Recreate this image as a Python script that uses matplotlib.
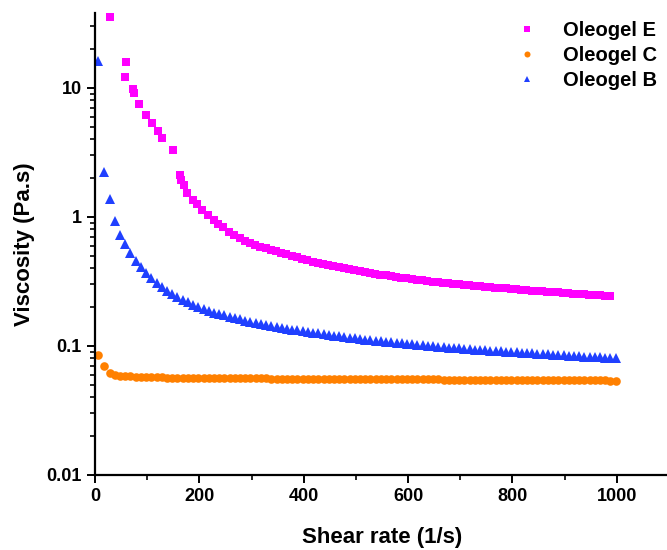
# -*- coding: utf-8 -*-
"""Viscozitate vs. viteza de forfecare pentru trei oleogeluri (scala log)."""

import matplotlib.pyplot as plt
from matplotlib.ticker import FixedLocator, LogLocator, NullFormatter, FuncFormatter

# ---------------------------------------------------------------------------
# Date
# ---------------------------------------------------------------------------
shear_e = [29, 58, 60, 72, 75, 85, 98, 110, 120, 129,
           150, 163, 164, 170, 177, 188, 196, 206, 217, 228,
           236, 246, 257, 267, 277, 287, 297, 307, 317, 327,
           337, 347, 357, 367, 377, 387, 397, 407, 417, 427,
           437, 447, 457, 467, 477, 487, 497, 507, 517, 527,
           537, 547, 557, 567, 577, 587, 597, 607, 617, 627,
           637, 647, 657, 667, 677, 687, 697, 707, 717, 727,
           737, 747, 757, 767, 777, 787, 797, 807, 817, 827,
           837, 847, 857, 867, 877, 887, 897, 907, 917, 927,
           937, 947, 957, 967, 977, 987]
visc_e = [35.3, 12.1, 15.8, 9.77, 9.1, 7.48, 6.14, 5.33, 4.62, 4.07,
          3.33, 2.12, 1.93, 1.77, 1.53, 1.35, 1.26, 1.13, 1.03, 0.943,
          0.883, 0.837, 0.77, 0.73, 0.69, 0.655, 0.628, 0.606, 0.589, 0.572,
          0.557, 0.542, 0.528, 0.515, 0.502, 0.489, 0.476, 0.463, 0.451, 0.441,
          0.432, 0.423, 0.415, 0.408, 0.401, 0.394, 0.387, 0.380, 0.374, 0.368,
          0.362, 0.357, 0.352, 0.347, 0.342, 0.338, 0.334, 0.330, 0.326, 0.322,
          0.318, 0.315, 0.312, 0.309, 0.306, 0.303, 0.300, 0.297, 0.295, 0.292,
          0.290, 0.287, 0.285, 0.283, 0.281, 0.279, 0.277, 0.275, 0.273, 0.271,
          0.269, 0.267, 0.265, 0.263, 0.262, 0.260, 0.258, 0.257, 0.255, 0.253,
          0.252, 0.250, 0.249, 0.247, 0.246, 0.245]

shear_bc = [5, 18, 28, 38, 48, 58, 68, 78, 88, 98,
            108, 118, 128, 138, 148, 158, 168, 178, 188, 198,
            208, 218, 228, 238, 248, 258, 268, 278, 288, 298,
            308, 318, 328, 338, 348, 358, 368, 378, 388, 398,
            408, 418, 428, 438, 448, 458, 468, 478, 488, 498,
            508, 518, 528, 538, 548, 558, 568, 578, 588, 598,
            608, 618, 628, 638, 648, 658, 668, 678, 688, 698,
            708, 718, 728, 738, 748, 758, 768, 778, 788, 798,
            808, 818, 828, 838, 848, 858, 868, 878, 888, 898,
            908, 918, 928, 938, 948, 958, 968, 978, 988, 998]
visc_c = [0.0847, 0.0697, 0.0618, 0.0598, 0.0590, 0.0585, 0.0581, 0.0578, 0.0576, 0.0574,
          0.0572, 0.0571, 0.0570, 0.0569, 0.0568, 0.0567, 0.0566, 0.0566, 0.0565, 0.0565,
          0.0564, 0.0564, 0.0563, 0.0563, 0.0562, 0.0562, 0.0562, 0.0561, 0.0561, 0.0561,
          0.0560, 0.0560, 0.0560, 0.0559, 0.0559, 0.0559, 0.0558, 0.0558, 0.0558, 0.0557,
          0.0557, 0.0557, 0.0557, 0.0556, 0.0556, 0.0556, 0.0556, 0.0555, 0.0555, 0.0555,
          0.0555, 0.0554, 0.0554, 0.0554, 0.0553, 0.0553, 0.0553, 0.0552, 0.0552, 0.0552,
          0.0551, 0.0551, 0.0551, 0.0550, 0.0550, 0.0550, 0.0549, 0.0549, 0.0549, 0.0548,
          0.0548, 0.0548, 0.0547, 0.0547, 0.0547, 0.0546, 0.0546, 0.0546, 0.0545, 0.0545,
          0.0545, 0.0544, 0.0544, 0.0544, 0.0543, 0.0543, 0.0543, 0.0542, 0.0542, 0.0542,
          0.0541, 0.0541, 0.0541, 0.0541, 0.0540, 0.0540, 0.0540, 0.0540, 0.0539, 0.0539]
visc_b = [16.2, 2.24, 1.37, 0.936, 0.73, 0.614, 0.53, 0.454, 0.408, 0.366,
          0.337, 0.308, 0.285, 0.268, 0.253, 0.239, 0.228, 0.218, 0.209, 0.200,
          0.193, 0.186, 0.181, 0.177, 0.173, 0.168, 0.164, 0.161, 0.157, 0.154,
          0.151, 0.148, 0.145, 0.143, 0.140, 0.138, 0.136, 0.134, 0.132, 0.130,
          0.128, 0.126, 0.125, 0.123, 0.122, 0.120, 0.119, 0.117, 0.116, 0.115,
          0.114, 0.112, 0.111, 0.110, 0.109, 0.108, 0.107, 0.106, 0.105, 0.104,
          0.103, 0.102, 0.101, 0.100, 0.0993, 0.0985, 0.0978, 0.0970, 0.0963, 0.0956,
          0.0950, 0.0943, 0.0937, 0.0931, 0.0925, 0.0919, 0.0913, 0.0908, 0.0902, 0.0897,
          0.0891, 0.0886, 0.0881, 0.0876, 0.0871, 0.0866, 0.0861, 0.0856, 0.0851, 0.0847,
          0.0842, 0.0837, 0.0833, 0.0828, 0.0824, 0.0820, 0.0815, 0.0811, 0.0807, 0.0803]

serii = [
    ("Oleogel E", shear_e, visc_e, "s", "#FF00FF", 6.0),
    ("Oleogel C", shear_bc, visc_c, "o", "#FF8000", 6.2),
    ("Oleogel B", shear_bc, visc_b, "^", "#2040FF", 7.0),
]

# ---------------------------------------------------------------------------
# Figura
# ---------------------------------------------------------------------------
plt.rcParams["font.family"] = ["Liberation Sans", "DejaVu Sans"]
plt.rcParams["font.weight"] = "bold"

fig = plt.figure(figsize=(6.67, 5.5), dpi=100)
ax = fig.add_axes([0.1424, 0.1364, 0.8605, 0.84])

for nume, x, y, marker, culoare, ms in serii:
    ax.plot(x, y, linestyle="none", marker=marker, markersize=ms,
            color=culoare, markeredgewidth=0, label=nume)

ax.set_yscale("log")
ax.set_xlim(0, 1100)
ax.set_ylim(0.01, 38.1)

ax.xaxis.set_major_locator(FixedLocator([0, 200, 400, 600, 800, 1000]))
ax.xaxis.set_minor_locator(FixedLocator([100, 300, 500, 700, 900, 1100]))
ax.yaxis.set_major_locator(FixedLocator([0.01, 0.1, 1, 10]))
ax.yaxis.set_minor_locator(LogLocator(base=10, subs=range(2, 10)))
ax.yaxis.set_major_formatter(FuncFormatter(lambda v, p: f"{v:g}"))
ax.yaxis.set_minor_formatter(NullFormatter())

for s in ("top", "right"):
    ax.spines[s].set_visible(False)
for s in ("left", "bottom"):
    ax.spines[s].set_linewidth(1.6)

ax.tick_params(which="major", direction="out", length=6, width=1.4,
               labelsize=13)
ax.tick_params(which="minor", direction="out", length=3.5, width=1.2)

ax.set_xlabel("Shear rate (1/s)", fontsize=16, fontweight="bold", labelpad=16)
ax.set_ylabel("Viscosity (Pa.s)", fontsize=16, fontweight="bold", labelpad=8)

ax.legend(loc="upper right", frameon=False, fontsize=14.5, markerscale=0.7,
          handletextpad=1.2, labelspacing=0.3, borderaxespad=0.2,
          handlelength=1.2, bbox_to_anchor=(1.0, 1.008))

fig.savefig("out.png", dpi=100)
